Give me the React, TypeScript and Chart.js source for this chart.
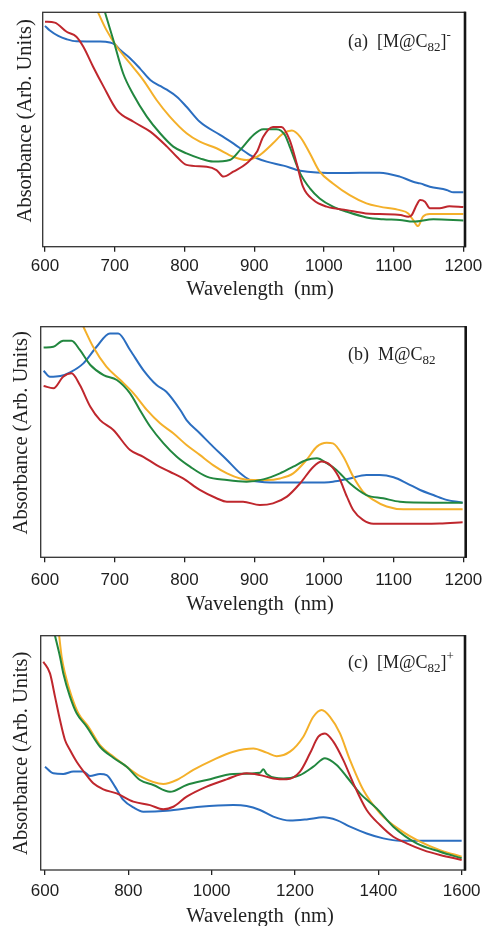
import React, { useEffect, useRef } from "react";
import { Chart, registerables } from "chart.js";

Chart.register(...registerables);

// ---------- shared text ----------
const X_TITLE = "Wavelength  (nm)";
const Y_TITLE = "Absorbance (Arb. Units)";

// ---------- panel (a) [M@C82]- ----------
const A_TICKS = [600, 700, 800, 900, 1000, 1100, 1200];
const A_TICK_LABELS = ["600", "700", "800", "900", "1000", "1100", "1200"];

const A_BLUE_NM = [600, 607, 619, 631, 645, 679, 693, 700, 708, 722, 736, 751, 765, 774, 789, 803, 822, 851, 870, 894, 918, 942, 966, 1023, 1080, 1109, 1128, 1138, 1152, 1176, 1186, 1200];
const A_BLUE_ABS = [94.2, 92.2, 89.9, 88.5, 87.6, 87.5, 87.1, 86.3, 83.9, 80.4, 76.1, 71.1, 68.6, 67.1, 64.0, 59.7, 53.3, 47.7, 44.1, 39.1, 36.3, 34.6, 32.4, 31.4, 31.6, 29.9, 27.7, 27.0, 25.6, 24.2, 23.2, 23.2];

const A_RED_NM = [600, 614, 631, 645, 655, 669, 684, 703, 727, 751, 775, 789, 803, 832, 846, 856, 870, 889, 904, 913, 927, 939, 951, 961, 970, 985, 1004, 1033, 1060, 1080, 1110, 1121, 1126, 1133, 1138, 1145, 1152, 1166, 1180, 1200];
const A_RED_ABS = [96.0, 95.6, 91.7, 89.6, 85.3, 76.8, 68.3, 58.3, 53.3, 49.1, 42.7, 38.4, 34.9, 34.1, 32.7, 29.9, 32.0, 35.5, 40.5, 46.9, 51.1, 51.1, 45.5, 35.5, 25.6, 19.9, 17.1, 15.6, 14.2, 13.9, 13.5, 12.8, 13.5, 17.8, 19.9, 19.2, 16.4, 16.4, 17.3, 16.9];

const A_GREEN_NM = [686, 698, 712, 727, 746, 765, 784, 803, 822, 841, 865, 880, 899, 913, 932, 944, 951, 966, 980, 994, 1013, 1033, 1061, 1085, 1109, 1128, 1157, 1200];
const A_GREEN_ABS = [100, 88.2, 74.0, 64.7, 55.5, 48.4, 42.7, 39.8, 37.7, 36.3, 37.0, 41.3, 47.7, 50.1, 50.1, 47.7, 42.7, 31.3, 24.9, 20.6, 17.1, 14.9, 12.5, 11.7, 11.4, 10.7, 11.7, 11.2];

const A_ORANGE_NM = [676, 688, 703, 722, 741, 760, 779, 803, 822, 846, 870, 889, 908, 927, 942, 954, 966, 980, 994, 1013, 1037, 1061, 1080, 1109, 1121, 1128, 1135, 1142, 1152, 1200];
const A_ORANGE_ABS = [100, 92.5, 85.3, 78.2, 71.1, 62.6, 55.5, 48.4, 44.8, 42.0, 38.4, 37.0, 39.1, 44.1, 48.4, 49.6, 46.9, 39.8, 32.0, 27.0, 22.0, 18.5, 17.1, 15.6, 14.2, 11.4, 8.8, 12.8, 14.0, 14.0];

// ---------- panel (b) M@C82 ----------
const B_TICKS = [600, 700, 800, 900, 1000, 1100, 1200];
const B_TICK_LABELS = ["600", "700", "800", "900", "1000", "1100", "1200"];

const B_BLUE_NM = [598, 607, 622, 636, 655, 674, 693, 705, 722, 741, 760, 774, 794, 803, 822, 841, 861, 880, 894, 908, 942, 985, 1013, 1037, 1061, 1080, 1100, 1119, 1138, 1157, 1176, 1199];
const B_BLUE_ABS = [80.9, 78.3, 78.6, 80.2, 84.1, 91.3, 97.1, 97.1, 89.9, 81.2, 74.7, 71.8, 63.9, 59.5, 53.8, 48.0, 42.2, 36.4, 33.5, 32.8, 32.4, 32.4, 32.8, 34.2, 35.7, 35.7, 34.7, 32.1, 29.2, 27.0, 24.9, 23.7];

const B_RED_NM = [598, 612, 626, 638, 650, 665, 679, 698, 722, 741, 760, 779, 798, 822, 846, 861, 884, 908, 927, 947, 966, 985, 997, 1009, 1021, 1033, 1042, 1056, 1071, 1109, 1166, 1199];
const B_RED_ABS = [74.3, 73.3, 78.3, 79.8, 74.7, 65.3, 59.5, 55.2, 46.5, 43.6, 40.0, 37.1, 34.2, 29.2, 25.6, 24.1, 24.1, 22.7, 23.4, 26.3, 32.1, 39.3, 41.5, 40.0, 35.0, 26.3, 20.5, 16.2, 14.5, 14.5, 14.7, 15.2];

const B_GREEN_NM = [598, 612, 626, 638, 650, 665, 684, 703, 722, 736, 751, 770, 789, 808, 832, 861, 889, 913, 937, 956, 975, 990, 1004, 1018, 1037, 1061, 1085, 1109, 1157, 1199];
const B_GREEN_ABS = [91.0, 91.3, 93.9, 93.9, 89.9, 83.4, 79.0, 76.9, 71.1, 63.9, 56.6, 49.4, 43.6, 39.3, 35.0, 33.5, 32.8, 33.8, 36.4, 39.3, 42.2, 42.9, 40.8, 37.9, 32.1, 27.0, 25.6, 24.1, 23.7, 23.7];

const B_ORANGE_NM = [655, 669, 688, 708, 727, 746, 765, 784, 803, 822, 841, 861, 880, 899, 918, 937, 956, 975, 990, 1004, 1013, 1028, 1042, 1056, 1071, 1090, 1114, 1199];
const B_ORANGE_ABS = [100, 91.3, 82.7, 76.9, 71.1, 63.9, 58.1, 53.8, 48.7, 44.4, 40.0, 36.4, 34.2, 33.5, 33.5, 34.2, 36.4, 42.2, 48.0, 49.7, 49.4, 43.6, 35.0, 28.5, 24.9, 22.0, 20.8, 20.8];

// ---------- panel (c) [M@C82]+ ----------
const C_TICKS = [600, 800, 1000, 1200, 1400, 1600];
const C_TICK_LABELS = ["600", "800", "1000", "1200", "1400", "1600"];

const C_BLUE_NM = [600, 620, 644, 668, 692, 708, 732, 748, 768, 788, 812, 836, 892, 972, 1052, 1084, 1116, 1148, 1188, 1228, 1268, 1300, 1332, 1372, 1412, 1452, 1600];
const C_BLUE_ABS = [44.1, 41.3, 41.0, 42.0, 42.0, 40.1, 41.0, 40.5, 35.6, 29.9, 26.7, 24.9, 25.3, 27.0, 27.7, 27.3, 25.6, 22.8, 21.1, 21.6, 22.5, 21.3, 18.5, 15.6, 13.5, 12.5, 12.5];

const C_RED_NM = [596, 612, 624, 636, 648, 660, 676, 696, 716, 740, 772, 812, 852, 884, 908, 940, 988, 1036, 1084, 1116, 1148, 1180, 1212, 1236, 1256, 1272, 1292, 1316, 1340, 1372, 1404, 1436, 1468, 1508, 1548, 1600];
const C_RED_ABS = [88.9, 83.9, 74.0, 64.0, 55.5, 51.2, 46.2, 41.3, 37.0, 34.4, 32.7, 29.2, 27.7, 25.9, 27.0, 31.3, 35.6, 38.7, 41.3, 40.5, 39.1, 38.7, 42.0, 49.8, 56.9, 58.3, 54.8, 46.9, 37.0, 25.6, 19.2, 14.2, 11.4, 8.5, 6.4, 4.3];

const C_GREEN_NM = [624, 636, 644, 660, 676, 700, 732, 764, 796, 828, 860, 900, 940, 988, 1052, 1116, 1124, 1132, 1172, 1212, 1244, 1272, 1300, 1324, 1356, 1396, 1436, 1492, 1548, 1600];
const C_GREEN_ABS = [100, 91.0, 83.9, 74.0, 66.9, 61.2, 52.6, 47.9, 44.1, 38.4, 36.3, 33.4, 36.3, 38.4, 41.0, 41.5, 43.0, 41.0, 39.1, 40.5, 44.1, 47.7, 44.8, 39.8, 32.7, 26.3, 18.5, 11.4, 7.8, 5.0];

const C_ORANGE_NM = [634, 640, 648, 664, 680, 704, 732, 764, 796, 828, 884, 916, 956, 1004, 1052, 1100, 1132, 1156, 1188, 1220, 1244, 1264, 1284, 1308, 1332, 1364, 1404, 1452, 1500, 1548, 1600];
const C_ORANGE_ABS = [100, 91.0, 83.9, 74.0, 66.9, 61.2, 53.3, 48.4, 44.1, 40.1, 36.7, 38.4, 42.7, 47.0, 50.5, 51.9, 50.1, 48.6, 50.5, 56.9, 65.4, 68.3, 65.4, 58.3, 46.9, 34.1, 24.2, 17.1, 12.1, 8.5, 5.7];

// ---------- styling ----------
const BLUE = "#2b6ec0";
const RED = "#bf272d";
const GREEN = "#22873f";
const ORANGE = "#f4b02a";

const W = 484;
const H = 320;
const SERIF = "'Liberation Serif', 'Times New Roman', serif";
const SANS = "'Liberation Sans', Arial, sans-serif";

type Part = { t: string; s?: "sub" | "sup" };
type Series = { x: number[]; y: number[]; color: string };
type PanelCfg = {
  top: number;
  area: { left: number; top: number; right: number; bottom: number };
  xMin: number;
  xMax: number;
  ticks: number[];
  tickLabels: string[];
  tickPad: number;
  xTitlePos: [number, number];
  yTitlePos: [number, number];
  note: Part[];
  notePos: [number, number];
  series: Series[];
};

const PANELS: PanelCfg[] = [
  {
    top: 0,
    area: { left: 42.7, top: 12.3, right: 465, bottom: 246.7 },
    xMin: 596.7,
    xMax: 1202.4,
    ticks: A_TICKS,
    tickLabels: A_TICK_LABELS,
    tickPad: 4.8,
    xTitlePos: [260, 289.3],
    yTitlePos: [26, 120.8],
    note: [{ t: "(a)  [M@C" }, { t: "82", s: "sub" }, { t: "]" }, { t: "-", s: "sup" }],
    notePos: [348, 46.7],
    series: [
      { x: A_RED_NM, y: A_RED_ABS, color: RED },
      { x: A_GREEN_NM, y: A_GREEN_ABS, color: GREEN },
      { x: A_ORANGE_NM, y: A_ORANGE_ABS, color: ORANGE },
      { x: A_BLUE_NM, y: A_BLUE_ABS, color: BLUE },
    ],
  },
  {
    top: 310,
    area: { left: 40.7, top: 16.7, right: 465.7, bottom: 247.3 },
    xMin: 593.8,
    xMax: 1203.4,
    ticks: B_TICKS,
    tickLabels: B_TICK_LABELS,
    tickPad: 7.5,
    xTitlePos: [260, 295],
    yTitlePos: [21.7, 122.8],
    note: [{ t: "(b)  M@C" }, { t: "82", s: "sub" }],
    notePos: [348, 50],
    series: [
      { x: B_RED_NM, y: B_RED_ABS, color: RED },
      { x: B_GREEN_NM, y: B_GREEN_ABS, color: GREEN },
      { x: B_ORANGE_NM, y: B_ORANGE_ABS, color: ORANGE },
      { x: B_BLUE_NM, y: B_BLUE_ABS, color: BLUE },
    ],
  },
  {
    top: 620,
    area: { left: 40.7, top: 15.7, right: 465, bottom: 250 },
    xMin: 589.7,
    xMax: 1608,
    ticks: C_TICKS,
    tickLabels: C_TICK_LABELS,
    tickPad: 6.5,
    xTitlePos: [260, 296.7],
    yTitlePos: [21.7, 133.3],
    note: [{ t: "(c)  [M@C" }, { t: "82", s: "sub" }, { t: "]" }, { t: "+", s: "sup" }],
    notePos: [348, 48],
    series: [
      { x: C_RED_NM, y: C_RED_ABS, color: RED },
      { x: C_GREEN_NM, y: C_GREEN_ABS, color: GREEN },
      { x: C_ORANGE_NM, y: C_ORANGE_ABS, color: ORANGE },
      { x: C_BLUE_NM, y: C_BLUE_ABS, color: BLUE },
    ],
  },
];

function makeDecor(cfg: PanelCfg) {
  return {
    id: "decor",
    afterDraw(chart: any) {
      const { ctx, chartArea: a } = chart;
      ctx.save();
      // frame
      ctx.strokeStyle = "#333";
      ctx.lineWidth = 1.3;
      ctx.strokeRect(a.left, a.top, a.right - a.left, a.bottom - a.top);
      ctx.strokeStyle = "#151515";
      ctx.lineWidth = 2.6;
      ctx.beginPath();
      ctx.moveTo(a.right, a.top - 0.6);
      ctx.lineTo(a.right, a.bottom + 0.6);
      ctx.stroke();

      ctx.fillStyle = "#222";
      // x title
      ctx.font = `20.5px ${SERIF}`;
      ctx.textAlign = "center";
      ctx.textBaseline = "middle";
      ctx.fillText(X_TITLE, cfg.xTitlePos[0], cfg.xTitlePos[1]);
      // y title
      ctx.save();
      ctx.translate(cfg.yTitlePos[0], cfg.yTitlePos[1]);
      ctx.rotate(-Math.PI / 2);
      ctx.fillText(Y_TITLE, 0, 0);
      ctx.restore();

      // annotation with sub/superscripts
      ctx.textAlign = "left";
      ctx.textBaseline = "alphabetic";
      let x = cfg.notePos[0];
      const base = cfg.notePos[1];
      for (const p of cfg.note) {
        const size = p.s ? 13 : 18;
        ctx.font = `${size}px ${SERIF}`;
        const dy = p.s === "sub" ? 4 : p.s === "sup" ? -8 : 0;
        ctx.fillText(p.t, x, base + dy);
        x += ctx.measureText(p.t).width;
      }
      ctx.restore();
    },
  };
}

function Panel({ cfg }: { cfg: PanelCfg }) {
  const ref = useRef<HTMLCanvasElement>(null);
  useEffect(() => {
    const canvas = ref.current;
    if (!canvas) return;
    const g = cfg.area;
    const chart = new Chart(canvas, {
      type: "line",
      data: {
        datasets: cfg.series.map((s) => ({
          data: s.x.map((x, i) => ({ x, y: s.y[i] })),
          borderColor: s.color,
          backgroundColor: s.color,
          borderWidth: 2,
          pointRadius: 0,
          fill: false,
          cubicInterpolationMode: "monotone" as const,
        })),
      },
      options: {
        animation: false,
        responsive: false,
        events: [],
        layout: { padding: { left: g.left, top: g.top, right: W - g.right, bottom: 0 } },
        plugins: { legend: { display: false }, tooltip: { enabled: false }, title: { display: false } },
        scales: {
          x: {
            type: "linear",
            min: cfg.xMin,
            max: cfg.xMax,
            afterBuildTicks: (s: any) => {
              s.ticks = cfg.ticks.map((v) => ({ value: v }));
            },
            afterFit: (s: any) => {
              s.height = H - g.bottom;
              s.paddingLeft = 0;
              s.paddingRight = 0;
            },
            ticks: {
              autoSkip: false,
              maxRotation: 0,
              minRotation: 0,
              padding: cfg.tickPad,
              color: "#1e1e1e",
              font: { family: SANS, size: 17 },
              callback: (_v: any, i: number) => cfg.tickLabels[i],
            },
            grid: {
              display: true,
              drawOnChartArea: false,
              drawTicks: true,
              tickLength: 5,
              color: "#222",
              lineWidth: 1.3,
            },
            border: { display: false },
          },
          y: { type: "linear", display: false, min: 0, max: 100 },
        },
      },
      plugins: [makeDecor(cfg)],
    } as any);
    return () => chart.destroy();
  }, [cfg]);
  return (
    <canvas
      ref={ref}
      width={W}
      height={H}
      style={{ position: "absolute", left: 0, top: cfg.top, width: W, height: H }}
    />
  );
}

export default function App() {
  return (
    <div
      style={{
        position: "absolute",
        left: 0,
        top: 0,
        width: W,
        height: 926,
        overflow: "hidden",
        background: "#fff",
      }}
    >
      {PANELS.map((p, i) => (
        <Panel key={i} cfg={p} />
      ))}
    </div>
  );
}
